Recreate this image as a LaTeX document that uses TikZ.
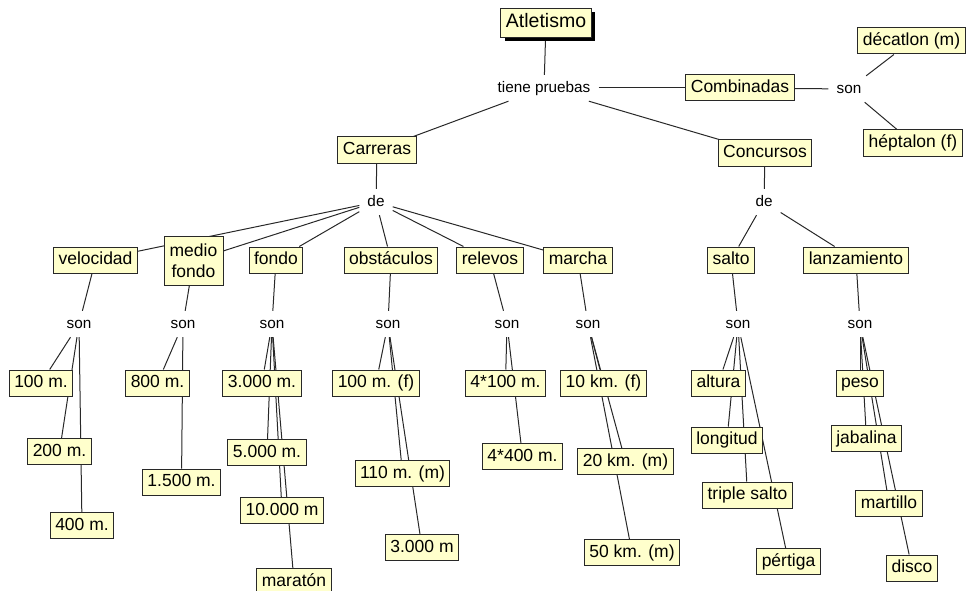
\documentclass[tikz,border=0pt]{standalone}
\usepackage{fontspec}
\setmainfont{Liberation Sans}
\usetikzlibrary{backgrounds,shadows}
\definecolor{boxfill}{RGB}{255,255,204}
\definecolor{boxline}{RGB}{40,40,40}
\tikzset{
  concept/.style={draw=boxline, fill=boxfill, line width=1pt, inner xsep=5pt, inner ysep=4.5pt,
    text height=13pt, text depth=4pt, font=\fontsize{17.5}{21}\selectfont},
  link/.style={inner xsep=8pt, inner ysep=4.5pt, text height=13pt, text depth=4pt,
    font=\fontsize{15.3}{18}\selectfont},
  edge/.style={draw=boxline, line width=1pt},
}
\begin{document}
\begin{tikzpicture}[x=1pt,y=-1pt]
\useasboundingbox (0,0) rectangle (966,591);
% top
\node[concept, font=\fontsize{19.5}{23}\selectfont, text height=14pt, text depth=5pt, inner ysep=5pt,
  drop shadow={fill=black, opacity=1, shadow xshift=4pt, shadow yshift=-4pt}] (atl) at (546,23) {Atletismo};
\node[link] (tp) at (544,88) {tiene pruebas};
\node[concept] (comb) at (740,88) {Combinadas};
\node[link] (son0) at (849,89) {son};
\node[concept] (dec) at (911.5,41) {décatlon (m)};
\node[concept] (hep) at (913,143) {héptalon (f)};
\node[concept] (carr) at (377,150) {Carreras};
\node[concept] (conc) at (765,153) {Concursos};
\node[link] (de1) at (376,202) {de};
\node[link] (de2) at (764,202) {de};
% categories
\node[concept] (vel) at (95.5,260) {velocidad};
\node[concept, align=center, text height=, text depth=, inner sep=2pt, minimum width=59pt, minimum height=49pt] (mf) at (193.5,260.5) {medio\\fondo};
\node[concept] (fon) at (276,260) {fondo};
\node[concept] (obs) at (391,260) {obstáculos};
\node[concept] (rel) at (490,260) {relevos};
\node[concept] (mar) at (578,260) {marcha};
\node[concept] (sal) at (731,260) {salto};
\node[concept] (lan) at (856,260) {lanzamiento};
% son
\node[link] (s1) at (79,324) {son};
\node[link] (s2) at (183,324) {son};
\node[link] (s3) at (272,324) {son};
\node[link] (s4) at (388,324) {son};
\node[link] (s5) at (507,324) {son};
\node[link] (s6) at (588,324) {son};
\node[link] (s7) at (738,324) {son};
\node[link] (s8) at (860,324) {son};
% leaves
\node[concept] (l100) at (41,383) {100 m.};
\node[concept] (l200) at (59.5,451.5) {200 m.};
\node[concept] (l400) at (82,525.5) {400 m.};
\node[concept] (l800) at (157.5,383) {800 m.};
\node[concept] (l1500) at (181.5,482) {1.500 m.};
\node[concept] (l3000) at (262,383) {3.000 m.};
\node[concept] (l5000) at (267,452.5) {5.000 m.};
\node[concept] (l10000) at (282,510.5) {10.000 m};
\node[concept] (lmar) at (294,581.5) {maratón};
\node[concept] (lo100) at (376,383) {100 m. (f)};
\node[concept] (lo110) at (402.5,473.5) {110 m. (m)};
\node[concept] (lo3000) at (422,547.5) {3.000 m};
\node[concept] (lr100) at (505.5,383) {4*100 m.};
\node[concept] (lr400) at (522.5,456.5) {4*400 m.};
\node[concept] (lm10) at (603.5,383) {10 km. (f)};
\node[concept] (lm20) at (625.5,461.5) {20 km. (m)};
\node[concept] (lm50) at (632,552.5) {50 km. (m)};
\node[concept] (lalt) at (718.5,383) {altura};
\node[concept] (llon) at (727,440) {longitud};
\node[concept] (ltri) at (747.5,495) {triple salto};
\node[concept] (lper) at (788.5,561.5) {pértiga};
\node[concept] (lpes) at (860,383) {peso};
\node[concept] (ljab) at (866.5,438.5) {jabalina};
\node[concept] (lmart) at (889,503.5) {martillo};
\node[concept] (ldis) at (912,568) {disco};
\begin{pgfonlayer}{background}
\path[edge] (atl) -- (tp);
\path[edge] (tp) -- (carr);
\path[edge] (tp) -- (conc);
\path[edge] (tp) -- (comb);
\path[edge] (comb) -- (son0);
\path[edge] (son0) -- (dec);
\path[edge] (son0) -- (hep);
\path[edge] (carr) -- (de1);
\path[edge] (conc) -- (de2);
\foreach \c in {vel,mf,fon,obs,rel,mar} \path[edge] (de1) -- (\c);
\foreach \c in {sal,lan} \path[edge] (de2) -- (\c);
\path[edge] (vel) -- (s1);
\path[edge] (mf) -- (s2);
\path[edge] (fon) -- (s3);
\path[edge] (obs) -- (s4);
\path[edge] (rel) -- (s5);
\path[edge] (mar) -- (s6);
\path[edge] (sal) -- (s7);
\path[edge] (lan) -- (s8);
\foreach \c in {l100,l200,l400} \path[edge] (s1) -- (\c);
\foreach \c in {l800,l1500} \path[edge] (s2) -- (\c);
\foreach \c in {l3000,l5000,l10000,lmar} \path[edge] (s3) -- (\c);
\foreach \c in {lo100,lo110,lo3000} \path[edge] (s4) -- (\c);
\foreach \c in {lr100,lr400} \path[edge] (s5) -- (\c);
\foreach \c in {lm10,lm20,lm50} \path[edge] (s6) -- (\c);
\foreach \c in {lalt,llon,ltri,lper} \path[edge] (s7) -- (\c);
\foreach \c in {lpes,ljab,lmart,ldis} \path[edge] (s8) -- (\c);
\end{pgfonlayer}
\end{tikzpicture}
\end{document}
